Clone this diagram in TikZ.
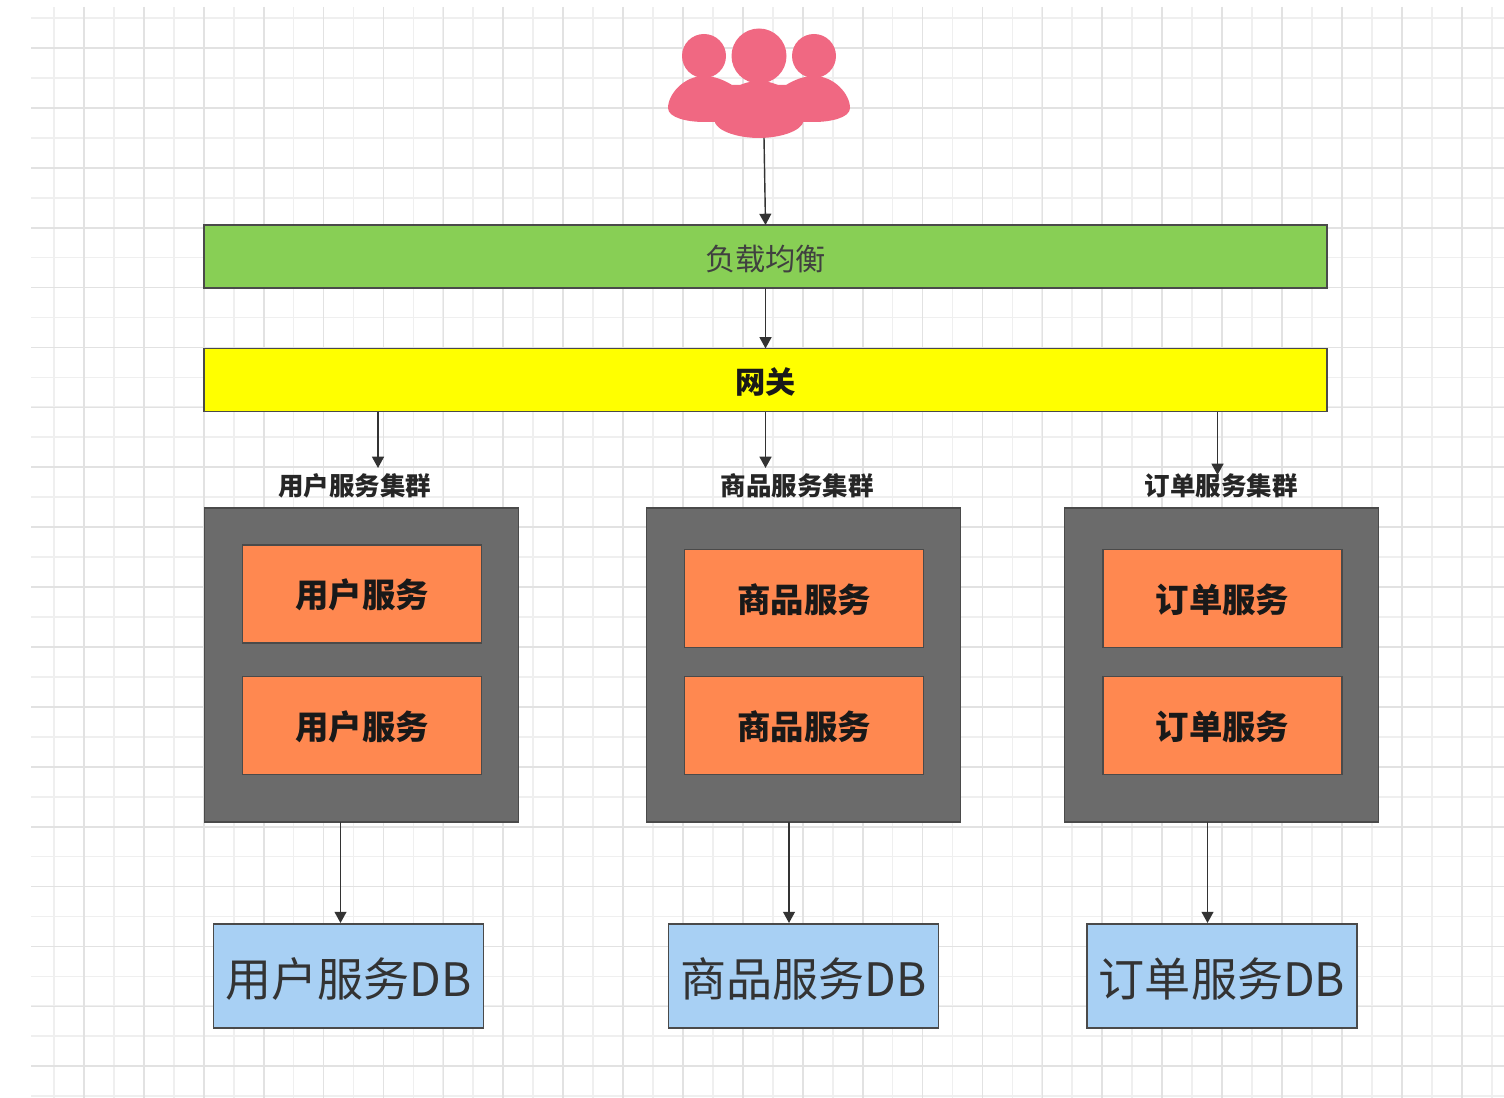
\documentclass[tikz,border=0pt]{standalone}
\usepackage{fontspec}
\setmainfont{Noto Sans CJK SC}
\usetikzlibrary{arrows.meta}
\definecolor{gridmajor}{HTML}{E2E2E2}
\definecolor{gridminor}{HTML}{EFEFEF}
\definecolor{crowdpink}{HTML}{F06882}
\definecolor{lbgreen}{HTML}{88CF55}
\definecolor{gategold}{HTML}{FFFF00}
\definecolor{clustergray}{HTML}{6B6B6B}
\definecolor{serviceorange}{HTML}{FF8850}
\definecolor{dbblue}{HTML}{A8D0F4}
\definecolor{edgegray}{HTML}{4A4A4A}
\tikzset{
    flow/.style={draw=black!80,line width=0.4pt,-{Triangle[length=3.2pt,width=3.4pt]}},
    basebox/.style={draw=edgegray,line width=0.4pt,inner sep=0pt,outer sep=0pt,text depth=0pt},
    barbox/.style={basebox,minimum width=11.22cm,minimum height=0.63cm,text height=7.7pt},
    clusterbox/.style={basebox,fill=clustergray,minimum width=3.14cm,minimum height=3.14cm},
    servicebox/.style={basebox,fill=serviceorange,minimum width=2.39cm,minimum height=0.98cm,text height=7.8pt,
        font=\fontsize{9.5}{11}\selectfont\bfseries,text=black!90},
    dbbox/.style={basebox,fill=dbblue,minimum width=2.70cm,minimum height=1.04cm,text height=11.4pt,
        font=\fontsize{13.1}{16}\selectfont,text=black!80},
    clusterlabel/.style={inner sep=0pt,font=\fontsize{7.25}{9}\selectfont\bfseries,text=black!85}
}

\begin{document}
\begin{tikzpicture}[x=0.01cm,y=-0.01cm]
                \useasboundingbox (0,0) rectangle (1504,1098);
                \foreach \k in {0,...,48}
                    \draw[gridminor,line width=0.5pt] ({54+59.9*\k/2},7) -- ({54+59.9*\k/2},1098);
                \foreach \k in {0,...,36}
                    \draw[gridminor,line width=0.5pt] (31,{18+59.9*\k/2}) -- (1504,{18+59.9*\k/2});
                \foreach \k in {0,...,23}
                    \draw[gridmajor,line width=0.5pt] ({84+59.9*\k},7) -- ({84+59.9*\k},1098);
                \foreach \k in {0,...,17}
                    \draw[gridmajor,line width=0.5pt] (31,{48+59.9*\k}) -- (1504,{48+59.9*\k});

                \fill[crowdpink] (704,56) circle (22);
                \fill[crowdpink] (814,56) circle (22);
                \fill[crowdpink] (759,56) circle (27.5);
                \fill[crowdpink]
                    (704,76) .. controls (684,76) and (668,94) .. (668,108)
                    .. controls (668,118) and (688,122) .. (704,122)
                    -- (814,122) .. controls (830,122) and (850,118) .. (850,108)
                    .. controls (850,94) and (834,76) .. (814,76)
                    .. controls (804,76) and (794,80) .. (786,85)
                    -- (732,85) .. controls (724,80) and (714,76) .. (704,76) -- cycle;
                \fill[crowdpink]
                    (759,81) .. controls (735,81) and (714,100) .. (714,120)
                    .. controls (716,132) and (740,138) .. (759,138)
                    .. controls (778,138) and (802,132) .. (804,120)
                    .. controls (804,100) and (783,81) .. (759,81) -- cycle;
                \coordinate (crowd) at (764,138);

                \node[barbox,fill=lbgreen,text=black!75,font=\fontsize{8.6}{11}\selectfont] (balancer) at (765.5,256.5) {负载均衡};
                \node[barbox,fill=gategold,text=black!90,font=\fontsize{8.6}{11}\selectfont\bfseries] (gateway) at (765.5,380) {网关};

                \node[clusterlabel] (userlabel) at (354.5,486) {用户服务集群};
                \node[clusterlabel] (goodslabel) at (797,486) {商品服务集群};
                \node[clusterlabel] (orderlabel) at (1221,486) {订单服务集群};

                \node[clusterbox] (usercluster) at (361.5,665) {};
                \node[clusterbox] (goodscluster) at (803.5,665) {};
                \node[clusterbox] (ordercluster) at (1221.5,665) {};

                \node[servicebox] (userone) at (362,594) {用户服务};
                \node[servicebox] (usertwo) at (362,725.5) {用户服务};
                \node[servicebox] (goodsone) at (804,598.5) {商品服务};
                \node[servicebox] (goodstwo) at (804,725.5) {商品服务};
                \node[servicebox] (orderone) at (1222.5,598.5) {订单服务};
                \node[servicebox] (ordertwo) at (1222.5,725.5) {订单服务};

                \node[dbbox] (userdb) at (348.5,976) {用户服务DB};
                \node[dbbox] (goodsdb) at (803.5,976) {商品服务DB};
                \node[dbbox] (orderdb) at (1222,976) {订单服务DB};

                \coordinate (userin) at (378,468);
                \coordinate (goodsin) at (765.5,468);
                \coordinate (orderin) at (1217.5,475);
                \coordinate (userout) at (340.5,923);
                \coordinate (goodsout) at (789,923);
                \coordinate (orderout) at (1207.5,923);

                \draw[flow] (crowd) -- (balancer.north);
                \draw[flow] (balancer.south) -- (gateway.north);
                \draw[flow] (gateway.south -| userin) -- (userin);
                \draw[flow] (gateway.south -| goodsin) -- (goodsin);
                \draw[flow] (gateway.south -| orderin) -- (orderin);
                \draw[flow] (usercluster.south -| userout) -- (userout);
                \draw[flow] (goodscluster.south -| goodsout) -- (goodsout);
                \draw[flow] (ordercluster.south -| orderout) -- (orderout);
            \end{tikzpicture}
\end{document}
